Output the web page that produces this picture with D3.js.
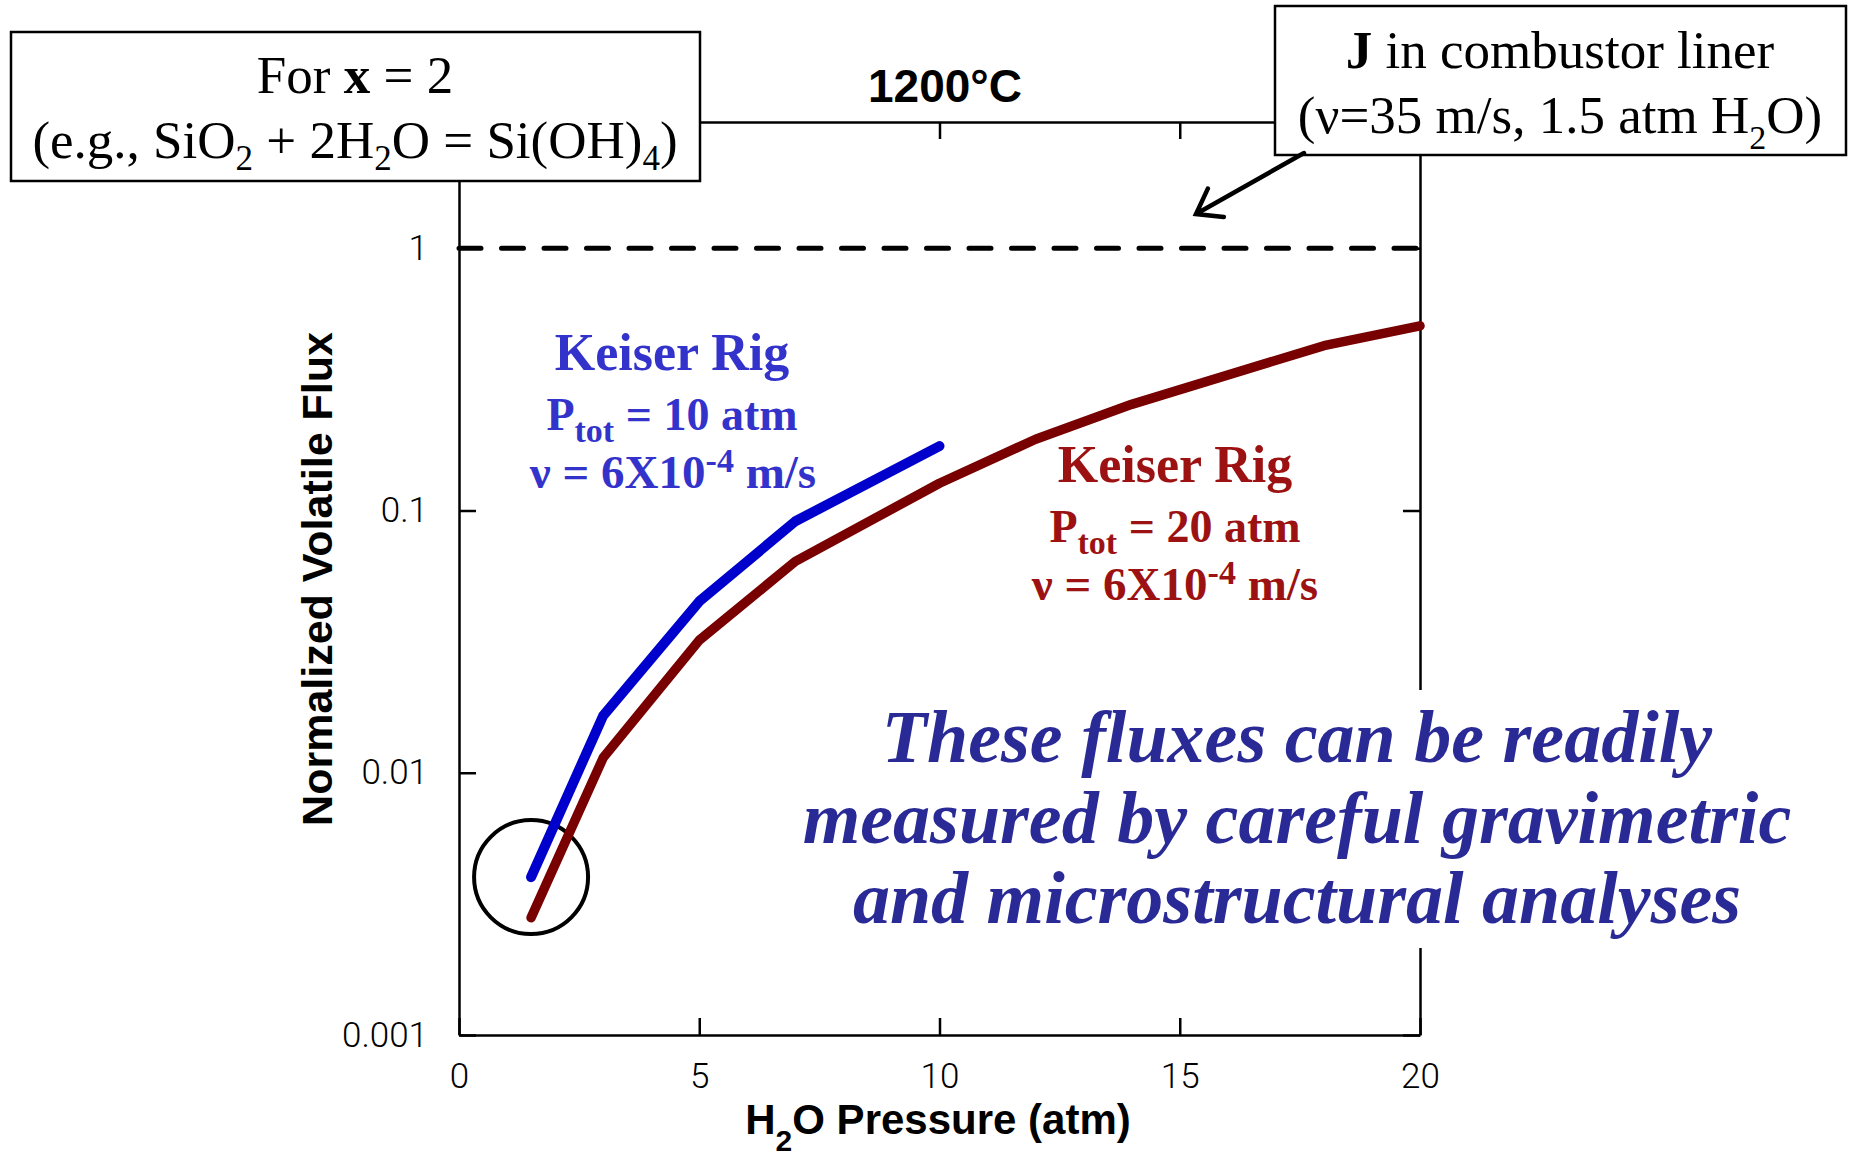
<!DOCTYPE html>
<html lang="en">
  <head>
    <meta charset="utf-8" />
    <title>Normalized volatile flux vs H2O pressure</title>
    <script src="https://cdnjs.cloudflare.com/ajax/libs/d3/7.8.5/d3.min.js"></script>
    <style type="text/css">
      body { margin: 0; background: #fff; }
      svg { display: block; }
      .axis path, .axis line { stroke: #000; stroke-width: 2.5; }
      .axis text { font-family: Roboto, "Liberation Sans", sans-serif; font-weight: 300; font-size: 35px; fill: #000; }
      .serif { font-family: "Liberation Serif", "Times New Roman", serif; white-space: pre; }
      .sans { font-family: "Liberation Sans", Arial, sans-serif; font-weight: bold; white-space: pre; }
    </style>
  </head>

  <body>
    <div id="chart"></div>

    <script>
      // Data.
      const bluePressure = [1.5, 3, 5, 7, 10];
      const blueFlux = [0.004, 0.0165, 0.045, 0.091, 0.176];
      const redPressure = [1.5, 3, 5, 7, 10, 12, 14, 18, 20];
      const redFlux = [0.0028, 0.0114, 0.032, 0.064, 0.127, 0.187, 0.254, 0.425, 0.506];
      const linerFlux = 1;
      const circleCenter = [1.5, 0.004];

      const xTicks = [0, 5, 10, 15, 20];
      const yTicks = [0.001, 0.01, 0.1, 1];
      const yTickLabels = ['0.001', '0.01', '0.1', '1'];

      const outerWidth = 1854;
      const outerHeight = 1153;
      const margin = { top: 122, right: 434, bottom: 118, left: 459 };
      const innerWidth = outerWidth - margin.left - margin.right;
      const innerHeight = outerHeight - margin.top - margin.bottom;

      const svg = d3.select('#chart').append('svg')
        .attr('width', outerWidth)
        .attr('height', outerHeight);

      const g = svg.append('g')
        .attr('transform', `translate(${margin.left},${margin.top})`);

      // Scales and axes.
      const x = d3.scaleLinear().domain([0, 20]).range([0, innerWidth]);
      const y = d3.scaleLog().domain([0.001, 3.03]).range([innerHeight, 0]);

      const xAxis = d3.axisBottom(x).tickValues(xTicks).tickSizeInner(-17).tickSizeOuter(0).tickPadding(28);
      const xAxisTop = d3.axisTop(x).tickValues(xTicks).tickFormat('').tickSizeInner(-17).tickSizeOuter(0);
      const yAxis = d3.axisLeft(y).tickValues(yTicks).tickFormat((d, i) => yTickLabels[i])
        .tickSizeInner(-17).tickSizeOuter(0).tickPadding(31);
      const yAxisRight = d3.axisRight(y).tickValues(yTicks).tickFormat('').tickSizeInner(-17).tickSizeOuter(0);

      [
        [xAxis, `translate(0,${innerHeight})`],
        [xAxisTop, 'translate(0,0)'],
        [yAxis, 'translate(0,0)'],
        [yAxisRight, `translate(${innerWidth},0)`]
      ].forEach(([axis, tr]) => {
        g.append('g')
          .attr('class', 'axis')
          .attr('transform', tr)
          .call(axis)
          .attr('font-size', null)
          .attr('font-family', null);
      });

      // Dashed level for J in the combustor liner.
      g.append('line')
        .attr('x1', x(0))
        .attr('x2', x(20))
        .attr('y1', y(linerFlux))
        .attr('y2', y(linerFlux))
        .attr('stroke', '#000')
        .attr('stroke-width', 5)
        .attr('stroke-linecap', 'round')
        .attr('stroke-dasharray', '22,20.5');

      // Circle round the low-pressure ends.
      g.append('circle')
        .attr('cx', x(circleCenter[0]))
        .attr('cy', y(circleCenter[1]))
        .attr('r', 57)
        .attr('fill', 'none')
        .attr('stroke', '#000')
        .attr('stroke-width', 4);

      const line = d3.line()
        .x(d => x(d[0]))
        .y(d => y(d[1]));

      g.append('path')
        .datum(d3.zip(redPressure, redFlux))
        .attr('fill', 'none')
        .attr('stroke', '#780000')
        .attr('stroke-width', 9.5)
        .attr('stroke-linecap', 'round')
        .attr('stroke-linejoin', 'round')
        .attr('d', line);

      g.append('path')
        .datum(d3.zip(bluePressure, blueFlux))
        .attr('fill', 'none')
        .attr('stroke', '#0000cc')
        .attr('stroke-width', 10)
        .attr('stroke-linecap', 'round')
        .attr('stroke-linejoin', 'round')
        .attr('d', line);

      // Text built from plain, bold, subscript and superscript pieces.
      function richText (parent, cx, cy, size, cls, parts) {
        const t = parent.append('text')
          .attr('class', cls)
          .attr('x', cx)
          .attr('y', cy)
          .attr('text-anchor', 'middle')
          .attr('font-size', size);
        let shift = 0;
        parts.forEach(p => {
          const ts = t.append('tspan').text(p.t);
          const s = p.shift || 0;
          if (s !== shift) { ts.attr('dy', s - shift); shift = s; }
          if (p.size) ts.attr('font-size', p.size);
          if (p.bold) ts.attr('font-weight', 'bold');
        });
        return t;
      }

      // Series labels.
      const blueLabel = '#3333cc';
      const redLabel = '#9c1212';
      richText(svg, 672, 370, 52, 'serif', [{ t: 'Keiser Rig' }]).attr('font-weight', 'bold').attr('fill', blueLabel);
      richText(svg, 672, 430, 46, 'serif', [{ t: 'P' }, { t: 'tot', shift: 12, size: 34 }, { t: ' = 10 atm' }])
        .attr('font-weight', 'bold').attr('fill', blueLabel);
      richText(svg, 673, 488, 47, 'serif', [{ t: 'ν = 6X10' }, { t: '-4', shift: -16, size: 34 }, { t: ' m/s' }])
        .attr('font-weight', 'bold').attr('fill', blueLabel);

      richText(svg, 1175, 482, 52, 'serif', [{ t: 'Keiser Rig' }]).attr('font-weight', 'bold').attr('fill', redLabel);
      richText(svg, 1175, 542, 46, 'serif', [{ t: 'P' }, { t: 'tot', shift: 12, size: 34 }, { t: ' = 20 atm' }])
        .attr('font-weight', 'bold').attr('fill', redLabel);
      richText(svg, 1175, 600, 47, 'serif', [{ t: 'ν = 6X10' }, { t: '-4', shift: -16, size: 34 }, { t: ' m/s' }])
        .attr('font-weight', 'bold').attr('fill', redLabel);

      // Italic note, on a white panel that hides part of the right axis.
      svg.append('rect')
        .attr('x', 790)
        .attr('y', 690)
        .attr('width', 1020)
        .attr('height', 258)
        .attr('fill', '#fff');

      const noteLines = ['These fluxes can be readily', 'measured by careful gravimetric', 'and microstructural analyses'];
      svg.append('text')
        .attr('class', 'serif')
        .attr('font-size', 74)
        .attr('font-weight', 'bold')
        .attr('font-style', 'italic')
        .attr('fill', '#2a2a96')
        .attr('text-anchor', 'middle')
        .selectAll('tspan')
        .data(noteLines)
        .join('tspan')
          .attr('x', 1297)
          .attr('y', (d, i) => 762 + i * 80.5)
          .text(d => d);

      // Title and axis titles.
      svg.append('text')
        .attr('class', 'sans')
        .attr('x', 945)
        .attr('y', 102)
        .attr('text-anchor', 'middle')
        .attr('font-size', 46)
        .text('1200°C');

      svg.append('text')
        .attr('class', 'sans')
        .attr('transform', 'translate(332,579) rotate(-90)')
        .attr('text-anchor', 'middle')
        .attr('font-size', 43)
        .text('Normalized Volatile Flux');

      richText(svg, 938, 1134, 42, 'sans', [{ t: 'H' }, { t: '2', shift: 17, size: 30 }, { t: 'O Pressure (atm)' }]);

      // Annotation boxes.
      function box (x0, y0, w, h) {
        svg.append('rect')
          .attr('x', x0)
          .attr('y', y0)
          .attr('width', w)
          .attr('height', h)
          .attr('fill', '#fff')
          .attr('stroke', '#000')
          .attr('stroke-width', 2.5);
      }

      box(11, 32, 689, 149);
      richText(svg, 355, 93, 53, 'serif', [{ t: 'For ' }, { t: 'x', bold: true }, { t: ' = 2' }]);
      richText(svg, 355, 158, 53, 'serif', [
        { t: '(e.g., SiO' }, { t: '2', shift: 12, size: 35 }, { t: ' + 2H' }, { t: '2', shift: 12, size: 35 },
        { t: 'O = Si(OH)' }, { t: '4', shift: 12, size: 35 }, { t: ')' }
      ]);

      box(1275, 6, 571, 149);
      richText(svg, 1560, 68, 53, 'serif', [{ t: 'J', bold: true }, { t: ' in combustor liner' }]);
      richText(svg, 1560, 133, 53, 'serif', [{ t: '(ν=35 m/s, 1.5 atm H' }, { t: '2', shift: 16, size: 34 }, { t: 'O)' }]);

      // Arrow from the liner box to the dashed level.
      const arrowFrom = [1304, 153];
      const arrowTo = [1196, 214];
      const ang = Math.atan2(arrowFrom[1] - arrowTo[1], arrowFrom[0] - arrowTo[0]);
      const head = 28;
      const spread = 0.62;
      svg.append('path')
        .attr('d', `M${arrowFrom}L${arrowTo}` +
          `M${arrowTo[0] + head * Math.cos(ang - spread)},${arrowTo[1] + head * Math.sin(ang - spread)}` +
          `L${arrowTo}` +
          `L${arrowTo[0] + head * Math.cos(ang + spread)},${arrowTo[1] + head * Math.sin(ang + spread)}`)
        .attr('fill', 'none')
        .attr('stroke', '#000')
        .attr('stroke-width', 4.5)
        .attr('stroke-linecap', 'round')
        .attr('stroke-linejoin', 'miter');
    </script>
  </body>
</html>
